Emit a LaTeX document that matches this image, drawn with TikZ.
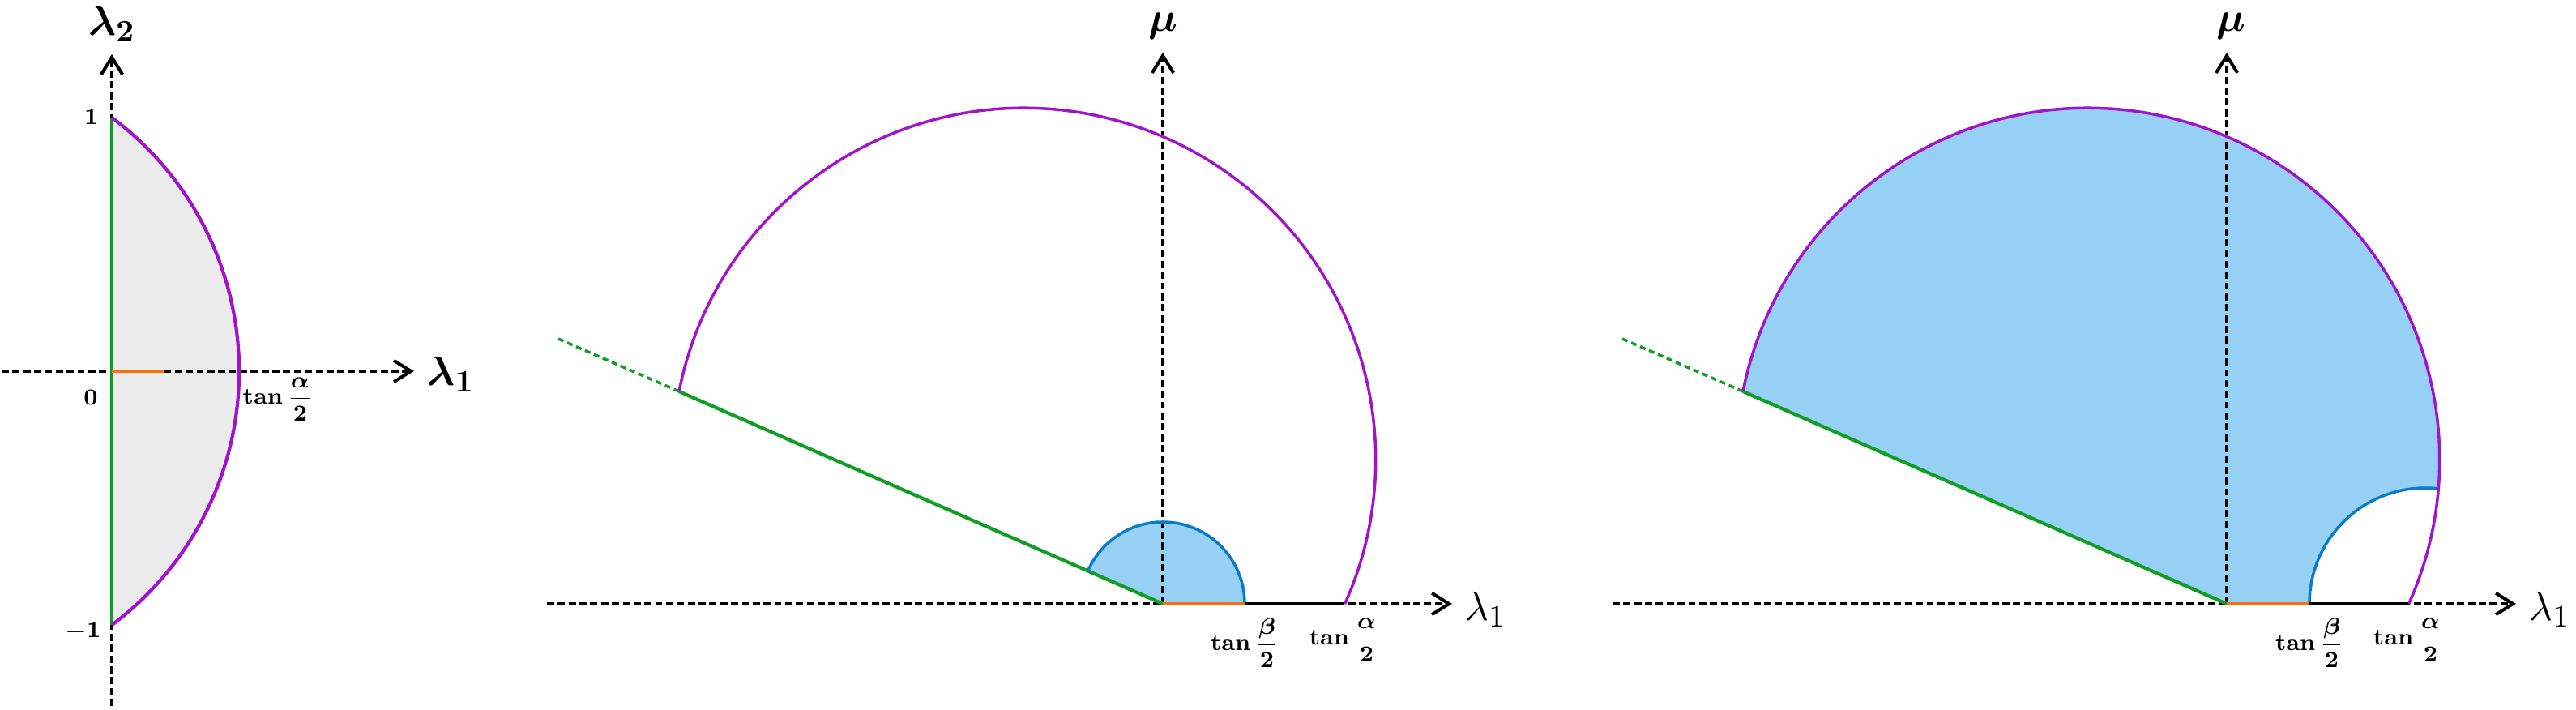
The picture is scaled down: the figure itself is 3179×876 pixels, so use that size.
\documentclass[tikz,border=0pt]{standalone}
\usepackage{amsmath}
\usepackage{bm}
\usetikzlibrary{arrows.meta}
\definecolor{arcpurple}{RGB}{162,20,204}
\definecolor{linegreen}{RGB}{16,158,36}
\definecolor{arcblue}{RGB}{10,122,202}
\definecolor{fillblue}{RGB}{150,209,245}
\definecolor{segorange}{RGB}{250,112,10}
\definecolor{fillgray}{RGB}{235,235,235}
\tikzset{axisline/.style={ % dashed axes with open heads
draw, line width=1.15pt, dash pattern=on 2.5pt off 1.3pt,
-{Straight Barb[length=6pt,width=7.5pt]}},
edgeline/.style={line width=1pt}, % boundary curves
segline/.style={line width=1.2pt}, % pieces lying on the lambda_1 axis
raydash/.style={line width=1pt, dash pattern=on 2pt off 1.4pt}, % rest of the ray
lbl/.style={inner sep=0pt, font=\fontsize{8}{10}\selectfont\boldmath}, % tick labels
axlbl/.style={inner sep=0pt, font=\fontsize{15}{18}\selectfont}} % axis names

\begin{document}
\begin{tikzpicture}[x=0.01cm, y=0.01cm]
\useasboundingbox (0,0) rectangle (3179,876);

% left panel
\coordinate (O1) at (138,418);
\coordinate (S1) at (138,5);
\coordinate (N1) at (138,809);
\coordinate (W1) at (2,418);
\coordinate (E1) at (511,418);
\coordinate (P1) at (138,731);
\coordinate (Q1) at (138,105);
\coordinate (T1) at (202,418);

\fill[fillgray] (P1) arc[start angle=53.3, end angle=-53.3, radius=390.5] -- cycle;
\draw[axisline] (S1) -- (N1);
\draw[axisline] (W1) -- (E1);
\draw[edgeline, linegreen, line width=1.2pt] (Q1) -- (P1);
\draw[edgeline, arcpurple, line width=1.2pt] (P1) arc[start angle=53.3, end angle=-53.3, radius=390.5];
\draw[segline, segorange] (O1) -- (T1);

\node[axlbl] (lam2) at (138,846) {$\bm{\lambda_2}$};
\node[axlbl, anchor=west] (lam1a) at (527,414) {$\bm{\lambda_1}$};
\node[lbl, anchor=east] (one) at (122,732) {$1$};
\node[lbl] (zero) at (112,386) {$0$};
\node[lbl, anchor=east] (mone) at (125,97) {$-1$};
\node[lbl, anchor=west] (ta1) at (299,383) {$\tan\dfrac{\alpha}{2}$};

% middle panel
\begin{scope}[shift={(1435,131)}]
\coordinate (O2) at (0,0);
\coordinate (W2) at (-760,0);
\coordinate (E2) at (357,0);
\coordinate (N2) at (0,680);
\coordinate (G2) at (-597,262);
\coordinate (D2) at (-746,327);
\coordinate (B2) at (101,0);
\coordinate (A2) at (224,0);

\fill[fillblue] (O2) -- (B2) arc[start angle=0, end angle=156.3, radius=101] -- cycle;
\draw[axisline] (W2) -- (E2);
\draw[axisline] (O2) -- (N2);
\draw[edgeline, linegreen, line width=1.2pt] (O2) -- (G2);
\draw[raydash, linegreen] (G2) -- (D2);
\draw[edgeline, arcpurple] (G2) arc[start angle=168.8, end angle=-24.2, radius=434];
\draw[edgeline, arcblue] (B2) arc[start angle=0, end angle=156.3, radius=101];
\draw[segline, segorange] (O2) -- (B2);
\draw[segline, black] (B2) -- (A2);

\node[axlbl] (mu2) at (0,713) {$\bm{\mu}$};
\node[axlbl, anchor=west] (lam1b) at ([xshift=4.5pt, yshift=-2pt]E2) {$\lambda_1$};
\node[lbl, anchor=north] (tb2) at ([yshift=-5pt]B2) {$\tan\dfrac{\beta}{2}$};
\node[lbl, anchor=north] (ta2) at ([yshift=-5pt]A2) {$\tan\dfrac{\alpha}{2}$};
\end{scope}

% right panel
\begin{scope}[shift={(2748,131)}]
\coordinate (O3) at (0,0);
\coordinate (W3) at (-758,0);
\coordinate (E3) at (357,0);
\coordinate (N3) at (0,680);
\coordinate (G3) at (-597,262);
\coordinate (D3) at (-746,327);
\coordinate (B3) at (102,0);
\coordinate (A3) at (224,0);

\fill[fillblue] (O3) -- (G3) arc[start angle=168.8, end angle=-4.6, radius=434]
  arc[start angle=84, end angle=180, radius=143] -- cycle;
\draw[axisline] (W3) -- (E3);
\draw[axisline] (O3) -- (N3);
\draw[edgeline, linegreen, line width=1.2pt] (O3) -- (G3);
\draw[raydash, linegreen] (G3) -- (D3);
\draw[edgeline, arcpurple] (G3) arc[start angle=168.8, end angle=-24.2, radius=434];
\draw[edgeline, arcblue] (B3) arc[start angle=180, end angle=84, radius=143];
\draw[segline, segorange] (O3) -- (B3);
\draw[segline, black] (B3) -- (A3);

\node[axlbl] (mu3) at (5,713) {$\bm{\mu}$};
\node[axlbl, anchor=west] (lam1c) at ([xshift=4.5pt, yshift=-2pt]E3) {$\lambda_1$};
\node[lbl, anchor=north] (tb3) at ([yshift=-5pt]B3) {$\tan\dfrac{\beta}{2}$};
\node[lbl, anchor=north] (ta3) at ([yshift=-5pt]A3) {$\tan\dfrac{\alpha}{2}$};
\end{scope}
\end{tikzpicture}
\end{document}
